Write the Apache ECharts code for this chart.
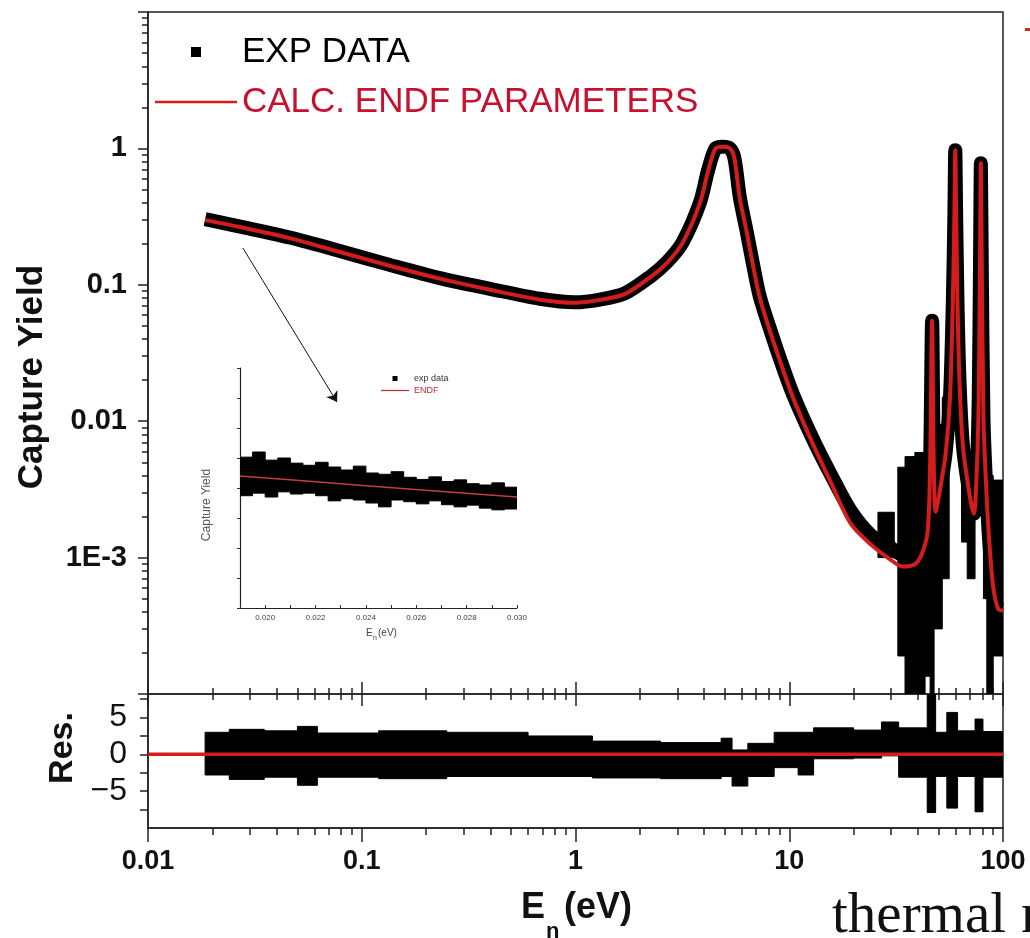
<!DOCTYPE html>
<html><head><meta charset="utf-8">
<script src="https://cdn.jsdelivr.net/npm/echarts@6/dist/echarts.min.js"></script>
<style>html,body{margin:0;padding:0;background:#fff}#c{width:1030px;height:938px}</style>
</head><body><div id="c"></div>
<script>
// ---------------- tick values / labels ----------------
const xTickVals = [0.01, 0.1, 1, 10, 100];
const xTickLabels = ['0.01', '0.1', '1', '10', '100'];
const xMinorVals = [0.02,0.03,0.04,0.05,0.06,0.07,0.08,0.09, 0.2,0.3,0.4,0.5,0.6,0.7,0.8,0.9, 2,3,4,5,6,7,8,9, 20,30,40,50,60,70,80,90];
const yTickVals = [0.0001, 0.001, 0.01, 0.1, 1, 10];
const yLabelVals = [0.001, 0.01, 0.1, 1];
const yTickLabels = ['1E-3', '0.01', '0.1', '1'];
const yMinorVals = [0.0002,0.0003,0.0004,0.0005,0.0006,0.0007,0.0008,0.0009, 0.002,0.003,0.004,0.005,0.006,0.007,0.008,0.009, 0.02,0.03,0.04,0.05,0.06,0.07,0.08,0.09, 0.2,0.3,0.4,0.5,0.6,0.7,0.8,0.9, 2,3,4,5,6,7,8,9];
const resTickVals = [-7.5, -5, -2.5, 0, 2.5, 5, 7.5];
const resLabelVals = [-5, 0, 5];
const resTickLabels = ['\u22125', '0', '5'];
const insetLabelVals = [0.020, 0.022, 0.024, 0.026, 0.028, 0.030];
const insetTickLabels = ['0.020', '0.022', '0.024', '0.026', '0.028', '0.030'];
const insetTickVals = [0.019,0.020,0.021,0.022,0.023,0.024,0.025,0.026,0.027,0.028,0.029,0.030];
const insetYTicks = [0, 0.07, 0.14, 0.21, 0.28, 0.35, 0.42, 0.49, 0.56];

// ---------------- main panel: energies (eV) ----------------
const energyPts = [0.0185, 0.027, 0.046, 0.079, 0.135, 0.232, 0.398, 0.682, 0.99, 1.30, 1.71, 2.24, 2.68, 3.17, 3.82, 4.18, 4.52, 4.89, 5.28, 5.54, 5.87, 6.31, 6.76, 7.28, 8.11, 9.03, 10.4, 12.9, 15.6, 19.4, 24.2, 29.4, 33.9, 38.5, 41.6, 44.4, 45.6, 46.6, 47.4, 48.4, 51, 54, 56.5, 58.3, 59.2, 59.8, 60.4, 61.2, 62.5, 65, 70, 73, 75.5, 77, 78.1, 78.8, 79.5, 81, 83, 86, 90, 95, 100];
// experimental capture yield (centre of the black band)
const expYield = [0.303, 0.267, 0.222, 0.177, 0.140, 0.112, 0.0935, 0.079, 0.0745, 0.078, 0.087, 0.115, 0.147, 0.205, 0.40, 0.70, 1.0, 1.03, 1.0, 0.85, 0.44, 0.25, 0.143, 0.082, 0.048, 0.029, 0.0158, 0.0074, 0.0041, 0.0022, 0.00145, 0.0012, 0.00105, 0.0011, 0.0012, 0.0017, 0.005, 0.0546, 0.0055, 0.0022, 0.0033, 0.006, 0.015, 0.08, 0.31, 0.97, 0.31, 0.08, 0.021, 0.0065, 0.0028, 0.0021, 0.0046, 0.015, 0.157, 0.777, 0.157, 0.0107, 0.0039, 0.0014, 0.0006, 0.00042, 0.00041];
// calculated yield with ENDF parameters
const calcYield = [0.298, 0.265, 0.220, 0.174, 0.138, 0.111, 0.092, 0.0778, 0.0739, 0.0775, 0.0859, 0.114, 0.145, 0.203, 0.397, 0.69, 1.0, 1.03, 1.0, 0.845, 0.431, 0.248, 0.140, 0.0804, 0.0462, 0.0279, 0.0150, 0.0068, 0.0036, 0.00177, 0.00124, 0.00098, 0.00086, 0.00089, 0.00105, 0.00155, 0.0048, 0.0546, 0.0052, 0.00217, 0.0033, 0.0059, 0.0150, 0.080, 0.308, 0.97, 0.308, 0.080, 0.021, 0.0065, 0.0028, 0.0021, 0.0046, 0.0150, 0.157, 0.777, 0.157, 0.0107, 0.0039, 0.00142, 0.00061, 0.00042, 0.00041];
// scattered experimental points (high-energy, low statistics): energy ranges and yield spread
const scatE0 = [26, 32.2, 34.8, 38.7, 43.2, 45.6, 47.6, 52, 64, 68, 81, 84, 90];
const scatE1 = [31, 34.8, 38.7, 43.2, 45.6, 47.6, 52, 56, 68, 74, 84, 90, 100];
const scatHi = [0.00215, 0.0046, 0.0055, 0.0059, 0.0046, 0.055, 0.0095, 0.015, 0.0065, 0.0046, 0.0045, 0.0040, 0.0037];
const scatLo = [0.00100, 0.00019, 0.0001, 0.0001, 0.000135, 0.0001, 0.0003, 0.0007, 0.0013, 0.0007, 0.0005, 0.0001, 0.00019];
// arrow from main curve to inset (E, yield)
const arrowE = [0.0278, 0.0766];
const arrowY = [0.186, 0.0138];

// ---------------- residual panel ----------------
const resE0 = [0.0185, 0.024, 0.035, 0.05, 0.062, 0.12, 0.25, 0.6, 1.2, 2.5, 4.8, 5.4, 6.4, 8.5, 11, 13, 20, 27, 32.5, 44.2, 48.4, 54.6, 61.3, 74, 80.6];
const resE1 = [0.024, 0.035, 0.05, 0.062, 0.12, 0.25, 0.6, 1.2, 2.5, 4.8, 5.4, 6.4, 8.5, 11, 13, 20, 27, 32.5, 44.2, 48.4, 54.6, 61.3, 74, 80.6, 100];
const resHi = [3.0, 3.4, 3.2, 3.8, 2.9, 3.2, 3.0, 2.5, 1.8, 1.6, 2.2, 0.6, 1.5, 3.0, 3.0, 3.6, 3.3, 4.4, 3.6, 8.2, 3.0, 5.7, 3.2, 4.8, 3.1];
const resLo = [-2.8, -3.4, -3.1, -4.2, -3.1, -3.3, -3.0, -3.0, -3.2, -3.3, -3.0, -4.3, -3.0, -1.8, -2.8, -0.6, -0.5, -0.2, -3.1, -7.9, -3.0, -7.3, -3.0, -7.8, -3.1];
const resZeroE = [0.01, 100];
const resZeroV = [0, 0];

// ---------------- inset ----------------
const inE0 = [0.0190,0.0195,0.0200,0.0205,0.0210,0.0215,0.0220,0.0225,0.0230,0.0235,0.0240,0.0245,0.0250,0.0255,0.0260,0.0265,0.0270,0.0275,0.0280,0.0285,0.0290,0.0295];
const inE1 = [0.0195,0.0200,0.0205,0.0210,0.0215,0.0220,0.0225,0.0230,0.0235,0.0240,0.0245,0.0250,0.0255,0.0260,0.0265,0.0270,0.0275,0.0280,0.0285,0.0290,0.0295,0.0300];
const inHi = [0.352,0.364,0.345,0.350,0.338,0.333,0.340,0.329,0.322,0.331,0.315,0.312,0.318,0.305,0.300,0.306,0.295,0.299,0.290,0.287,0.292,0.282];
const inLo = [0.262,0.268,0.259,0.271,0.266,0.268,0.262,0.250,0.255,0.252,0.245,0.236,0.252,0.248,0.243,0.250,0.241,0.236,0.240,0.233,0.229,0.231];
const inRedE = [0.019, 0.0215, 0.024, 0.0265, 0.030];
const inRedY = [0.308, 0.297, 0.285, 0.274, 0.259];

// ---------------- helpers ----------------
const RED = '#d41c1c';
const FONT = 'Liberation Sans, Arial, sans-serif';
const zip = (a, b) => a.map((v, i) => [v, b[i]]);
const blocks = (e0, hi, e1, lo) => e0.map((v, i) => [v, hi[i], e1[i], lo[i]]);
function lookup(vals, labels, isLog) {
  return function (v) {
    for (let i = 0; i < vals.length; i++) {
      const d = isLog ? Math.abs(Math.log10(v) - Math.log10(vals[i])) : Math.abs(v - vals[i]);
      if (d < 1e-6) return labels[i];
    }
    return '';
  };
}
function blockRender(params, api) {
  const p0 = api.coord([api.value(0), api.value(1)]);
  const p1 = api.coord([api.value(2), api.value(3)]);
  return {
    type: 'rect',
    shape: { x: Math.min(p0[0], p1[0]), y: Math.min(p0[1], p1[1]), width: Math.abs(p1[0] - p0[0]), height: Math.abs(p1[1] - p0[1]) },
    style: { fill: '#000', stroke: '#000', lineWidth: 1 }
  };
}
const TICK = { color: '#222', width: 1.5 };
function logX(grid, pos, opts) {
  return Object.assign({
    type: 'log', gridIndex: grid, min: 0.01, max: 100, position: pos,
    axisLine: { show: false, onZero: false }, splitLine: { show: false }, minorSplitLine: { show: false },
    axisLabel: { show: false }
  }, opts);
}
function logY(opts) {
  return Object.assign({
    type: 'log', gridIndex: 0, min: 0.0001, max: 10, position: 'left',
    axisLine: { show: false, onZero: false }, splitLine: { show: false }, minorSplitLine: { show: false },
    axisLabel: { show: false }
  }, opts);
}

const chart = echarts.init(document.getElementById('c'), null, { renderer: 'canvas' });
chart.setOption({
  animation: false,
  backgroundColor: '#fff',
  grid: [
    { left: 148, top: 12, width: 855, height: 682, show: true, borderColor: '#222', borderWidth: 1.5, backgroundColor: 'transparent' },
    { left: 148, top: 694, width: 855, height: 134, show: true, borderColor: '#222', borderWidth: 1.5, backgroundColor: 'transparent' },
    { left: 240, top: 368, width: 277, height: 240 }
  ],
  legend: [
    {
      left: 150, top: 27, orient: 'vertical', itemWidth: 82, itemHeight: 10, itemGap: 10, selectedMode: false,
      textStyle: { fontFamily: FONT, fontSize: 35, lineHeight: 40 },
      data: [
        { name: 'EXP DATA', icon: 'path://M0 0H10V10H0Z', itemStyle: { color: '#000' }, textStyle: { color: '#000' } },
        { name: 'CALC. ENDF PARAMETERS', icon: 'path://M0 0H82V2.5H0Z', itemStyle: { color: RED }, textStyle: { color: '#c8102e' } }
      ]
    },
    {
      left: 376, top: 369, orient: 'vertical', itemWidth: 28, itemHeight: 5, itemGap: 3, selectedMode: false,
      textStyle: { fontFamily: FONT, fontSize: 9, color: '#333' },
      data: [
        { name: 'exp data', icon: 'path://M0 0H10V10H0Z', itemStyle: { color: '#000' } },
        { name: 'ENDF', icon: 'path://M0 0H28V1.2H0Z', itemStyle: { color: '#b83030' }, textStyle: { color: '#b83030' } }
      ]
    }
  ],
  xAxis: [
    logX(0, 'bottom', { axisTick: { show: true, inside: true, length: 12, customValues: xTickVals, lineStyle: TICK } }),
    logX(0, 'bottom', { axisTick: { show: true, inside: true, length: 6, customValues: xMinorVals, lineStyle: TICK } }),
    logX(1, 'bottom', {
      axisLine: { show: true, onZero: false, lineStyle: { color: '#222', width: 1.5 } },
      axisTick: { show: true, inside: false, length: 14, customValues: xTickVals, lineStyle: TICK },
      axisLabel: { show: true, customValues: xTickVals, formatter: lookup(xTickVals, xTickLabels, true), fontFamily: FONT, fontWeight: 'bold', fontSize: 27, color: '#111', margin: 20 }
    }),
    logX(1, 'bottom', { axisTick: { show: true, inside: false, length: 7, customValues: xMinorVals, lineStyle: TICK } }),
    logX(1, 'top', { axisTick: { show: true, inside: true, length: 12, customValues: xTickVals, lineStyle: TICK } }),
    logX(1, 'top', { axisTick: { show: true, inside: true, length: 6, customValues: xMinorVals, lineStyle: TICK } }),
    {
      type: 'value', gridIndex: 2, min: 0.019, max: 0.030, position: 'bottom',
      axisLine: { show: true, onZero: false, lineStyle: { color: '#222', width: 1.2 } },
      splitLine: { show: false },
      axisTick: { show: true, inside: true, length: 3, customValues: insetTickVals, lineStyle: { color: '#333', width: 1 } },
      axisLabel: { show: true, customValues: insetLabelVals, formatter: lookup(insetLabelVals, insetTickLabels, false), fontFamily: FONT, fontSize: 8, color: '#444', margin: 6 }
    }
  ],
  yAxis: [
    logY({
      axisLine: { show: true, onZero: false, lineStyle: { color: '#222', width: 1.5 } },
      axisTick: { show: true, inside: false, length: 10, customValues: yTickVals, lineStyle: TICK },
      axisLabel: { show: true, customValues: yLabelVals, formatter: lookup(yLabelVals, yTickLabels, true), fontFamily: FONT, fontWeight: 'bold', fontSize: 29, color: '#111', margin: 21 }
    }),
    logY({ axisTick: { show: true, inside: false, length: 6, customValues: yMinorVals, lineStyle: TICK } }),
    {
      type: 'value', gridIndex: 1, min: -10, max: 8.2, position: 'left',
      axisLine: { show: true, onZero: false, lineStyle: { color: '#222', width: 1.5 } },
      splitLine: { show: false },
      axisTick: { show: true, inside: false, length: 8, customValues: resTickVals, lineStyle: TICK },
      axisLabel: { show: true, customValues: resLabelVals, formatter: lookup(resLabelVals, resTickLabels, false), fontFamily: FONT, fontSize: 32, color: '#111', margin: 21 }
    },
    {
      type: 'value', gridIndex: 2, min: 0, max: 0.56, position: 'left',
      axisLine: { show: true, onZero: false, lineStyle: { color: '#222', width: 1.2 } },
      splitLine: { show: false },
      axisTick: { show: true, inside: false, length: 3, customValues: insetYTicks, lineStyle: { color: '#333', width: 1 } },
      axisLabel: { show: false }
    }
  ],
  series: [
    {
      name: 'EXP DATA', type: 'custom', xAxisIndex: 0, yAxisIndex: 0, clip: true,
      itemStyle: { color: '#000' },
      renderItem: blockRender, encode: { x: [0, 2], y: [1, 3] },
      data: blocks(scatE0, scatHi, scatE1, scatLo), silent: true, z: 2
    },
    {
      name: 'EXP DATA', type: 'line', xAxisIndex: 0, yAxisIndex: 0, symbol: 'none', silent: true, z: 2,
      smooth: 0.3, itemStyle: { color: '#000' },
      lineStyle: { color: '#000', width: 14, join: 'round', cap: 'butt' },
      data: zip(energyPts, expYield)
    },
    {
      name: 'CALC. ENDF PARAMETERS', type: 'line', xAxisIndex: 0, yAxisIndex: 0, symbol: 'none', silent: true, z: 3,
      smooth: 0.3, itemStyle: { color: RED },
      lineStyle: { color: RED, width: 4, join: 'round' },
      data: zip(energyPts, calcYield),
      markLine: {
        silent: true, animation: false, symbol: ['none', 'arrow'], symbolSize: 10,
        label: { show: false }, emphasis: { disabled: true },
        lineStyle: { color: '#111', width: 1, type: 'solid' },
        data: [[{ coord: [arrowE[0], arrowY[0]] }, { coord: [arrowE[1], arrowY[1]] }]]
      }
    },
    {
      name: 'res', type: 'custom', xAxisIndex: 2, yAxisIndex: 2, clip: true, itemStyle: { color: '#000' },
      renderItem: blockRender, encode: { x: [0, 2], y: [1, 3] },
      data: blocks(resE0, resHi, resE1, resLo), silent: true, z: 2
    },
    {
      name: 'res zero', type: 'line', xAxisIndex: 2, yAxisIndex: 2, symbol: 'none', silent: true, z: 3,
      lineStyle: { color: RED, width: 3.5 }, data: zip(resZeroE, resZeroV)
    },
    {
      name: 'exp data', type: 'custom', xAxisIndex: 6, yAxisIndex: 3, clip: true, itemStyle: { color: '#000' },
      renderItem: blockRender, encode: { x: [0, 2], y: [1, 3] },
      data: blocks(inE0, inHi, inE1, inLo), silent: true, z: 2
    },
    {
      name: 'ENDF', type: 'line', xAxisIndex: 6, yAxisIndex: 3, symbol: 'none', silent: true, z: 3,
      itemStyle: { color: '#b83030' }, lineStyle: { color: '#c04040', width: 1.5 }, data: zip(inRedE, inRedY)
    }
  ],
  graphic: [
    { type: 'text', x: 32, y: 377, rotation: Math.PI / 2, style: { text: 'Capture Yield', font: 'bold 35px ' + FONT, fill: '#111', align: 'center', verticalAlign: 'middle' } },
    { type: 'text', x: 63, y: 748, rotation: Math.PI / 2, style: { text: 'Res.', font: 'bold 34px ' + FONT, fill: '#111', align: 'center', verticalAlign: 'middle' } },
    { type: 'text', x: 521, y: 908, style: { text: 'E', font: 'bold 36px ' + FONT, fill: '#111', align: 'left', verticalAlign: 'middle' } },
    { type: 'text', x: 546, y: 932, style: { text: 'n', font: 'bold 22px ' + FONT, fill: '#111', align: 'left', verticalAlign: 'middle' } },
    { type: 'text', x: 564, y: 908, style: { text: '(eV)', font: 'bold 36px ' + FONT, fill: '#111', align: 'left', verticalAlign: 'middle' } },
    { type: 'text', x: 207, y: 505, rotation: Math.PI / 2, style: { text: 'Capture Yield', font: '12px ' + FONT, fill: '#555', align: 'center', verticalAlign: 'middle' } },
    { type: 'text', x: 366, y: 633, style: { text: 'E', font: '10px ' + FONT, fill: '#444', align: 'left', verticalAlign: 'middle' } },
    { type: 'text', x: 373, y: 638, style: { text: 'n', font: '7px ' + FONT, fill: '#444', align: 'left', verticalAlign: 'middle' } },
    { type: 'text', x: 378, y: 633, style: { text: '(eV)', font: '10px ' + FONT, fill: '#444', align: 'left', verticalAlign: 'middle' } },
    { type: 'text', x: 832, y: 946, style: { text: 'thermal', font: '57px Liberation Serif, serif', fill: '#111', align: 'left', verticalAlign: 'bottom' } },
    { type: 'text', x: 1021, y: 946, style: { text: 'n', font: '57px Liberation Serif, serif', fill: '#111', align: 'left', verticalAlign: 'bottom' } },
    { type: 'rect', shape: { x: 1025, y: 28, width: 5, height: 3 }, style: { fill: '#d22' } }
  ]
});
</script>
</body></html>
